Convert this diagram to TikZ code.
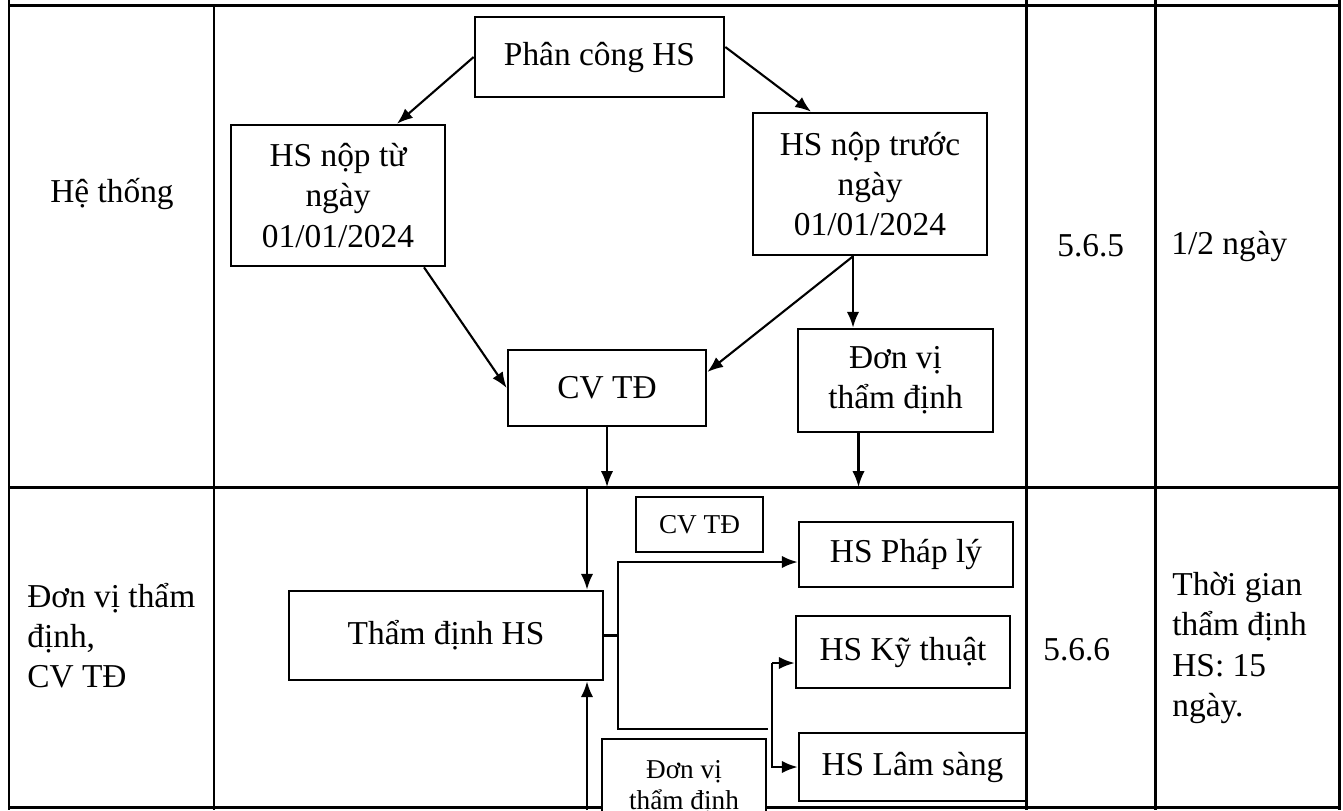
\documentclass[tikz,border=0pt]{standalone}
\usepackage{fontspec}
\setmainfont{Liberation Serif}
\usepackage{tikz}
\usetikzlibrary{calc, positioning, arrows.meta}
\newcommand\bodysize{\fontsize{19}{22.8}\selectfont}
\newcommand\tagsize{\fontsize{15.5}{17.6}\selectfont}
\tikzset{
	box/.style 2 args={draw, fill=white, line width=1.5pt, align=center, inner sep=0pt, minimum width=#1*0.2mm, minimum height=#2*0.2mm, font=\bodysize},
	tagbox/.style 2 args={box={#1}{#2}, font=\tagsize},
	cell/.style={inner sep=0pt, font=\bodysize},
	rule/.style={line width=1.7pt},
	arr/.style={line width=1.2pt, -{Latex[length=9pt, width=7pt]}}
}

\begin{document}
\begin{tikzpicture}[x=0.2mm, y=-0.2mm]
	\useasboundingbox (0,0) rectangle (1343,810);
	\clip (0,0) rectangle (1343,810);
	\draw[rule] (9,0) -- (9,810);
	\draw[rule] (214,5) -- (214,810);
	\draw[rule] (1026,0) -- (1026,810);
	\draw[rule] (1155,0) -- (1155,810);
	\draw[rule] (1339,0) -- (1339,810);
	\draw[rule] (9,5) -- (1339,5);
	\draw[rule] (9,487) -- (1339,487);
	\draw[rule] (9,807) -- (1339,807);
	\coordinate (rowline) at (0,487);
	\node[cell] (sys) at (112,194) {Hệ thống};
	\node[cell, anchor=west, align=left] (units) at (27,635.5) {Đơn vị thẩm\\định,\\CV TĐ};
	\node[cell, anchor=west] (code1) at (1057,246) {5.6.5};
	\node[cell, anchor=west] (time1) at (1171,246) {1/2 ngày};
	\node[cell, anchor=west] (code2) at (1043,650) {5.6.6};
	\node[cell, anchor=west, align=left] (time2) at (1172,648) {Thời gian\\thẩm định\\HS: 15\\ngày.};
	\node[box={249}{80}] (assign) at (599.5,57) {Phân công HS};
	\node[box={214}{141}] (fromnew) at (338,195.5) {HS nộp từ\\ngày\\01/01/2024};
	\node[box={234}{142}] (beforenew) at (870,184) {HS nộp trước\\ngày\\01/01/2024};
	\node[box={198}{76}] (cvtd) at (607,388) {CV TĐ};
	\node[box={195}{103}] (unit) at (895.5,380.5) {Đơn vị\\thẩm định};
	\node[box={314}{89}] (review) at (446,635.5) {Thẩm định HS};
	\node[tagbox={127}{55}] (cvtag) at (699.5,524.5) {CV TĐ};
	\node[box={214}{65}] (legal) at (906,554.5) {HS Pháp lý};
	\node[box={214}{72}] (tech) at (903,652) {HS Kỹ thuật};
	\node[box={227}{68}] (clinic) at (912.5,767) {HS Lâm sàng};
	\node[tagbox={164}{97}] (unittag) at (684,787.5) {Đơn vị\\thẩm định};
	\draw[arr] (assign.west) -- ($(fromnew.north)+(59,0)$);
	\draw[arr] ($(assign.east)+(0,-10)$) -- ($(beforenew.north)+(-59,0)$);
	\draw[arr] ($(fromnew.south)+(86,0)$) -- (cvtd.west);
	\coordinate (split) at ($(beforenew.south)+(-17,0)$);
	\draw[arr] (split) -- ($(cvtd.east)+(0,-16)$);
	\draw[arr] (split) -- (split |- unit.north);
	\draw[arr] (cvtd.south) -- (cvtd.south |- rowline);
	\coordinate (unitout) at ($(unit.south)+(-37,0)$);
	\draw[arr] (unitout) -- (unitout |- rowline);
	\coordinate (in1) at (587,487);
	\coordinate (in2) at (587,810);
	\draw[arr] (in1) -- (in1 |- review.north);
	\draw[arr] (in2) -- (in2 |- review.south);
	\coordinate (br1) at (618,562);
	\coordinate (br1end) at (768,729);
	\draw[line width=1.2pt] (review.east) -- (br1 |- review.east);
	\draw[arr] (br1end) -| (br1) -- (br1 -| legal.west);
	\coordinate (br2) at (772,663);
	\draw[arr] (br2) -- (br2 -| tech.west);
	\draw[arr] (br2) |- (clinic.west);
\end{tikzpicture}
\end{document}
